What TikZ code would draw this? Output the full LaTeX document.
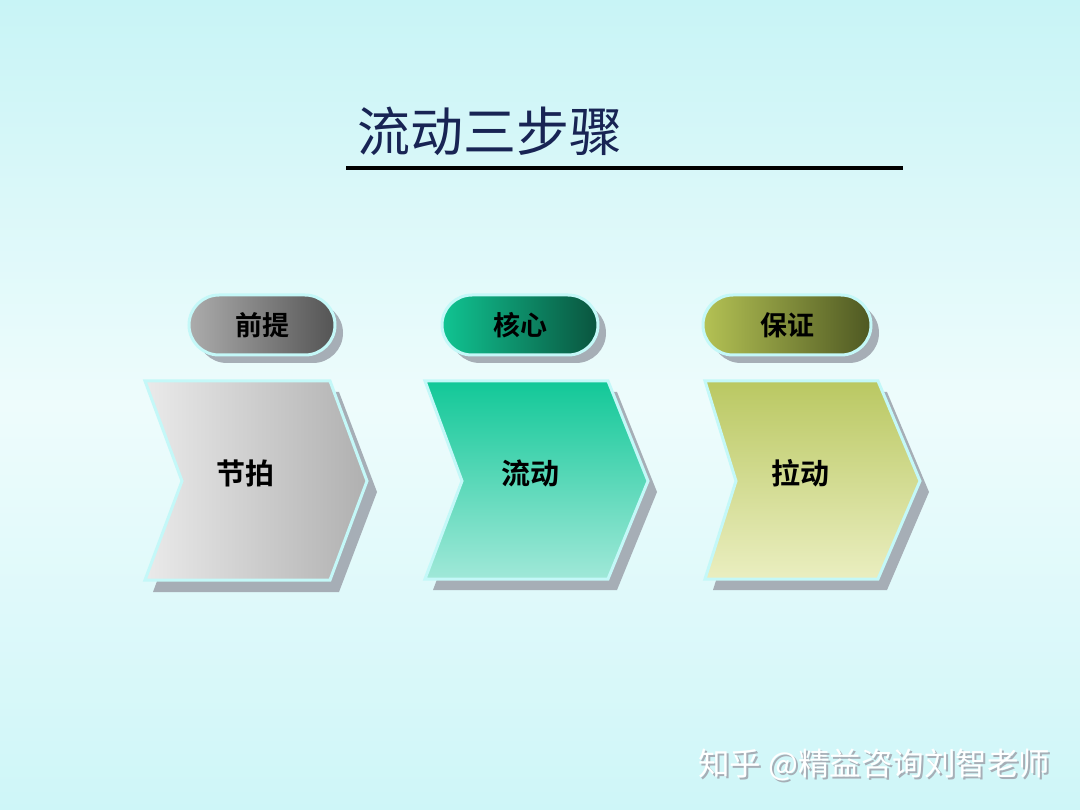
\documentclass[tikz,border=0pt]{standalone}
\usepackage{fontspec}
\usetikzlibrary{shapes.misc}
\newfontfamily\cjk{Noto Sans CJK SC}[BoldFont={Noto Sans CJK SC Bold}]
\definecolor{bgtop}{RGB}{200,244,246}
\definecolor{bgmid}{RGB}{238,252,252}
\definecolor{bgbot}{RGB}{206,246,248}
\definecolor{rim}{RGB}{196,248,248}
\definecolor{shd}{RGB}{166,174,182}
\definecolor{navy}{RGB}{24,36,84}
\definecolor{grayL}{RGB}{172,172,172}
\definecolor{grayD}{RGB}{84,84,84}
\definecolor{tealL}{RGB}{16,196,146}
\definecolor{tealD}{RGB}{10,84,62}
\definecolor{oliveL}{RGB}{180,194,84}
\definecolor{oliveD}{RGB}{78,88,34}
\definecolor{chGrayL}{RGB}{234,234,234}
\definecolor{chGrayR}{RGB}{176,176,176}
\definecolor{chTealT}{RGB}{18,200,152}
\definecolor{chTealB}{RGB}{160,232,216}
\definecolor{chOlT}{RGB}{186,200,98}
\definecolor{chOlB}{RGB}{234,238,192}
\begin{document}
\begin{tikzpicture}[x=1pt,y=-1pt,
  pill/.style={rounded rectangle, minimum width=146pt, minimum height=60pt, draw=rim, line width=3pt, font=\cjk\bfseries\fontsize{27}{27}\selectfont, text=black, inner sep=0pt},
  pillshadow/.style={rounded rectangle, minimum width=146pt, minimum height=60pt, fill=shd, draw=none, inner sep=0pt},
  chev/.style={draw=rim, line width=3pt, line join=miter},
  chevshadow/.style={fill=shd, draw=none},
  chevtext/.style={font=\cjk\bfseries\fontsize{29}{29}\selectfont, text=black},
  titletext/.style={font=\cjk\fontsize{53}{53}\selectfont, text=navy, anchor=west, inner sep=0pt},
  wm/.style={font=\cjk\fontsize{31.5}{31.5}\selectfont, anchor=west, inner sep=0pt}
]
\useasboundingbox (0,0) rectangle (1080,810);
\shade[top color=bgtop, bottom color=bgbot, middle color=bgmid] (0,0) rectangle (1080,810);

% title
\node[titletext] (title) at (357,131) {流动三步骤};
\coordinate (ruleL) at (346,168);
\coordinate (ruleR) at (903,168);
\draw[line width=4pt, black] (ruleL) -- (ruleR);

% pills
\node[pillshadow] (p1s) at (270,333) {};
\node[pill, left color=grayL, right color=grayD] (p1) at (262,325) {前提};
\node[pillshadow, minimum width=156pt] (p2s) at (528,333) {};
\node[pill, minimum width=156pt, left color=tealL, right color=tealD] (p2) at (520,325) {核心};
\node[pillshadow, minimum width=168pt] (p3s) at (795,333) {};
\node[pill, minimum width=168pt, left color=oliveL, right color=oliveD] (p3) at (787,325) {保证};

% chevron 1
\fill[chevshadow] (153,392) -- (339,392) -- (377,492) -- (339,592) -- (153,592) -- (190,492) -- cycle;
\shade[chev, left color=chGrayL, right color=chGrayR] (145,381) -- (330,381) -- (367,481) -- (330,580) -- (145,580) -- (182,481) -- cycle;
\node[chevtext] (c1) at (245,473) {节拍};

% chevron 2
\fill[chevshadow] (433,392) -- (617,392) -- (657,492) -- (617,590) -- (433,590) -- (470,492) -- cycle;
\shade[chev, top color=chTealT, bottom color=chTealB] (425,381) -- (608,381) -- (648,481) -- (608,579) -- (425,579) -- (462,481) -- cycle;
\node[chevtext] (c2) at (530,473) {流动};

% chevron 3
\fill[chevshadow] (713,392) -- (887,392) -- (929,492) -- (887,590) -- (713,590) -- (744,492) -- cycle;
\shade[chev, top color=chOlT, bottom color=chOlB] (705,381) -- (878,381) -- (920,481) -- (878,579) -- (705,579) -- (736,481) -- cycle;
\node[chevtext] (c3) at (800,473) {拉动};

% watermark
\node[wm, text=shd] (wms) at (700,767) {知乎 @精益咨询刘智老师};
\node[wm, text=white] (wmt) at (698,765) {知乎 @精益咨询刘智老师};
\end{tikzpicture}
\end{document}
